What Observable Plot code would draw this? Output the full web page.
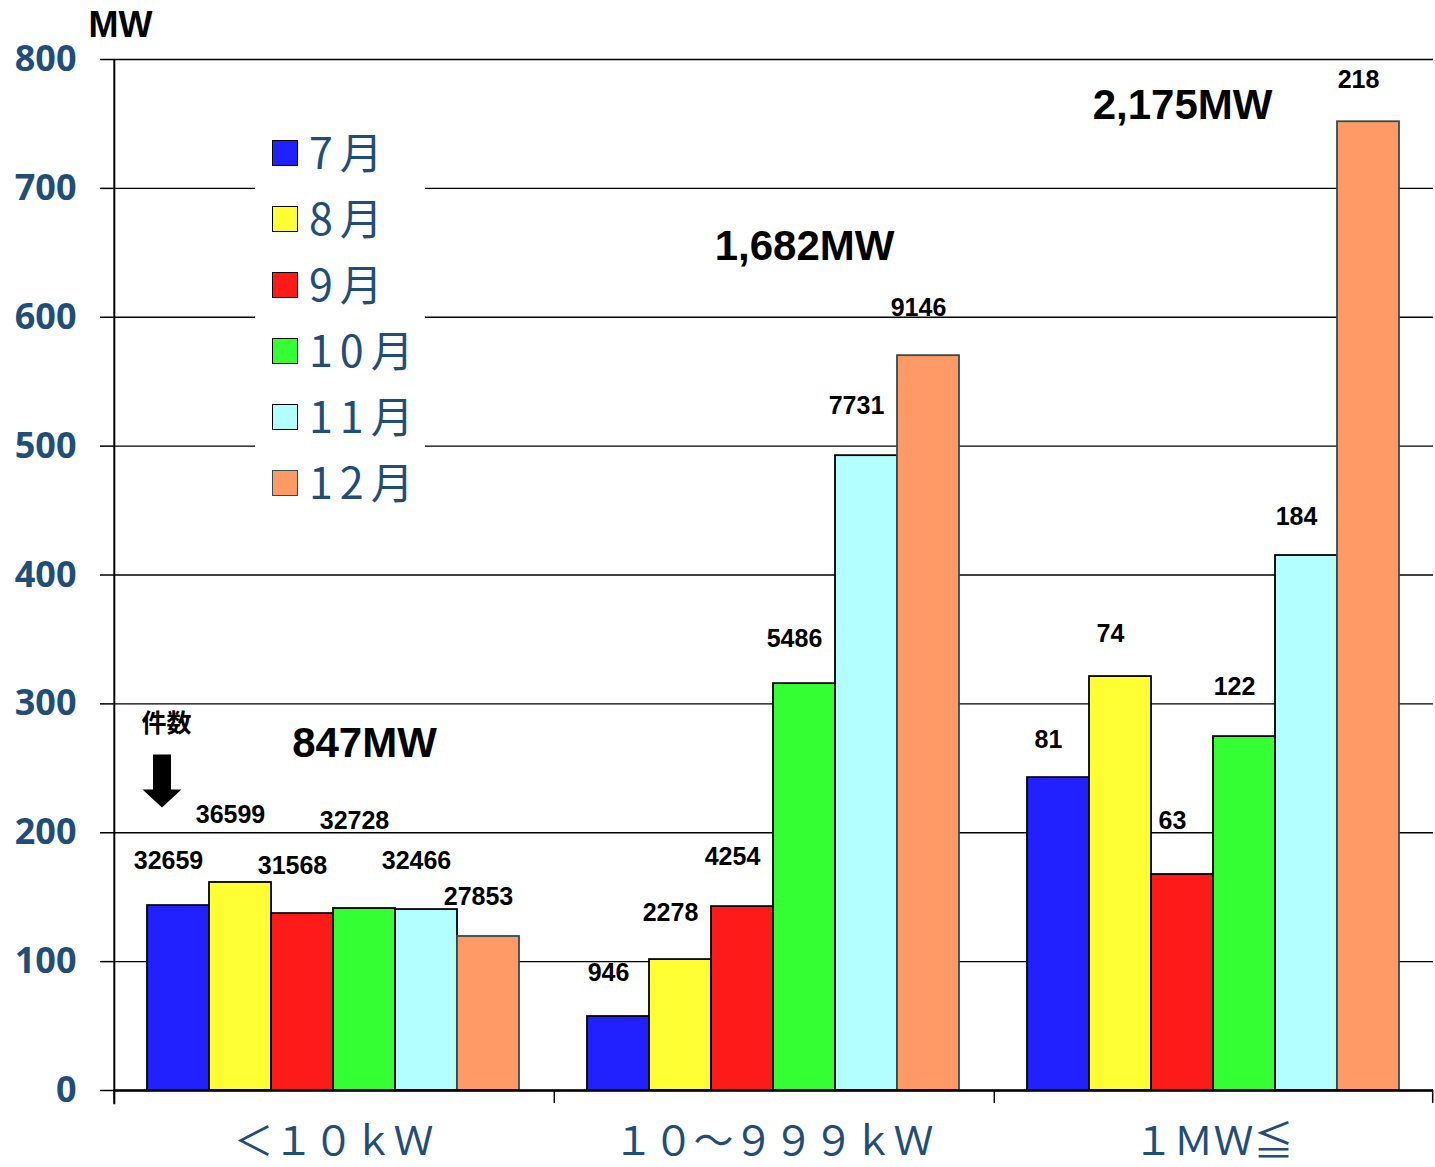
<!DOCTYPE html>
<html><head><meta charset="utf-8">
<script src="https://cdn.jsdelivr.net/npm/d3@7"></script>
<script src="https://cdn.jsdelivr.net/npm/@observablehq/plot@0.6"></script>
<style>
html,body{margin:0;padding:0;background:#fff;}
#wrap{position:relative;width:1435px;height:1167px;overflow:hidden;background:#fff;}
#chart svg{display:block;}
#legend{position:absolute;left:255px;top:116px;width:170px;height:398px;background:#fff;}
.sw{position:absolute;left:17px;width:24px;height:24px;border:1.5px solid #000;box-sizing:content-box;}
.lab{position:absolute;left:54px;height:66px;line-height:66px;font-family:"Noto Sans CJK JP";font-size:43px;color:#1f4e79;letter-spacing:7px;white-space:nowrap;}
</style></head>
<body>
<div id="wrap"><div id="chart"></div><div id="legend"></div></div>
<script>
// ---- data ----
const groups = ["<10kW", "10-999kW", "1MW≦"];
const groupLabels = ["＜１０ｋＷ", "１０～９９９ｋＷ", "１ＭＷ≦"];
const months = ["7月", "8月", "9月", "10月", "11月", "12月"];
const monthColors = ["#2121ff", "#ffff33", "#ff1a1a", "#33ff33", "#b3ffff", "#ff9966"];
const monthStrokes = ["#000", "#000", "#000", "#000", "#000", "#2f4f4f"];
const yTicks = [0, 100, 200, 300, 400, 500, 600, 700, 800];

const mwSmall = [143.5, 161.4, 137.3, 141.2, 140.4, 119.5];
const mwMid = [57.4, 101.6, 142.7, 315.7, 492.6, 570.2];
const mwLarge = [242.8, 321.2, 167.6, 274.6, 415.1, 751.7];

const countsSmall = [32659, 36599, 31568, 32728, 32466, 27853];
const countsMid = [946, 2278, 4254, 5486, 7731, 9146];
const countsLarge = [81, 74, 63, 122, 184, 218];

// height (MW) at which each count label sits
const countLabelAtSmall = [178, 214, 174, 209, 178, 150];
const countLabelAtMid = [91.5, 138, 181, 350, 531, 607];
const countLabelAtLarge = [272, 354.5, 209, 313, 445, 784];

const totalLabels = ["847MW", "1,682MW", "2,175MW"];
const totalLabelMonth = ["10月", "10月", "9月"];
const totalLabelAt = [269, 655, 764];

const countNote = "件数";
const countNoteAt = 284;
const arrowAt = 240.5;

// ---- table ----
const mwByGroup = [mwSmall, mwMid, mwLarge];
const countsByGroup = [countsSmall, countsMid, countsLarge];
const labelAtByGroup = [countLabelAtSmall, countLabelAtMid, countLabelAtLarge];
const rows = groups.flatMap((g, gi) => months.map((m, mi) => ({
  group: g, month: m, mw: mwByGroup[gi][mi], count: countsByGroup[gi][mi],
  labelAt: labelAtByGroup[gi][mi], fill: monthColors[mi], stroke: monthStrokes[mi]
})));
const totalsRows = groups.map((g, gi) => ({group: g, month: totalLabelMonth[gi], at: totalLabelAt[gi], label: totalLabels[gi]}));

const W = 1435, H = 1167, ML = 113, MR = 2, MT = 59, MB = 77;
const PO = 0.53;
const facetW = (W - ML - MR) / groups.length;
const edgeDx = facetW / (months.length + 2 * PO) * (PO + 0.5);

const arrowSymbol = {
  draw(ctx) {
    ctx.moveTo(-9, -26); ctx.lineTo(9, -26); ctx.lineTo(9, 9); ctx.lineTo(19.5, 9);
    ctx.lineTo(0, 27); ctx.lineTo(-19.5, 9); ctx.lineTo(-9, 9); ctx.closePath();
  }
};

const plot = Plot.plot({
  width: W, height: H,
  marginLeft: ML, marginRight: MR, marginTop: MT, marginBottom: MB,
  style: {background: "#fff", color: "#000", fontFamily: "'Liberation Sans', Arial, sans-serif"},
  fx: {domain: groups, padding: 0},
  x: {domain: months, paddingInner: 0, paddingOuter: PO, axis: null},
  y: {domain: [0, 800]},
  color: {type: "identity"},
  marks: [
    Plot.gridY(yTicks, {stroke: "#000", strokeOpacity: 1, strokeWidth: 1.3}),
    Plot.axisY(yTicks, {tickSize: 13, tickPadding: 24, fontSize: 36, fontWeight: "bold",
      fontFamily: "'Open Sans', sans-serif", fill: "#1f4e79", stroke: "#000", strokeWidth: 1.5, label: null}),
    Plot.barY(rows, {fx: "group", x: "month", y: "mw", fill: "fill", stroke: "stroke", strokeWidth: 1.8}),
    Plot.ruleY([0], {stroke: "#000", strokeWidth: 2.5}),
    Plot.ruleX([groups[0]], {fx: d => d, x: () => months[0], y1: -11, y2: 800, dx: -edgeDx, stroke: "#000", strokeWidth: 2}),
    Plot.ruleX(groups, {fx: d => d, x: () => months[0], y1: -10, y2: 0, dx: -edgeDx, stroke: "#000", strokeWidth: 1.5}),
    Plot.ruleX([groups[groups.length - 1]], {fx: d => d, x: () => months[months.length - 1], y1: -10, y2: 0, dx: edgeDx, stroke: "#000", strokeWidth: 1.5}),
    Plot.text(rows, {fx: "group", x: "month", y: "labelAt", text: d => String(d.count), dx: -10,
      fontSize: 25, fontWeight: "bold", fill: "#000"}),
    Plot.text(totalsRows, {fx: "group", x: "month", y: "at", text: "label", fontSize: 42, fontWeight: "bold", fill: "#000"}),
    Plot.text([{group: groups[0], month: months[0]}], {fx: "group", x: "month", y: () => countNoteAt, text: () => countNote,
      dx: -12, fontSize: 25, fontWeight: "bold", fontFamily: "'Noto Sans CJK JP'", fill: "#000"}),
    Plot.dot([{group: groups[0], month: months[0]}], {fx: "group", x: "month", y: () => arrowAt, symbol: arrowSymbol,
      r: 10, fill: "#000", stroke: "none", dx: -16.5}),
    Plot.text([{group: groups[0]}], {fx: "group", frameAnchor: "top-left", text: () => "MW", dx: -25, dy: -34,
      textAnchor: "start", lineAnchor: "middle", fontSize: 36, fontWeight: "bold", fill: "#000"}),
    Plot.axisFx({anchor: "bottom", tickSize: 0, tickPadding: 36, fontSize: 40, fill: "#1f4e79",
      fontFamily: "'Noto Sans CJK JP'", tickFormat: g => groupLabels[groups.indexOf(g)], label: null})
  ]
});
document.getElementById("chart").appendChild(plot);

// legend
const legend = document.getElementById("legend");
months.forEach((m, i) => {
  const cy = 37 + 66 * i;
  const sw = document.createElement("div");
  sw.className = "sw";
  sw.style.top = (cy - 13) + "px";
  sw.style.background = monthColors[i];
  sw.style.borderColor = monthStrokes[i];
  legend.appendChild(sw);
  const lab = document.createElement("div");
  lab.className = "lab";
  lab.style.top = (cy - 36) + "px";
  lab.textContent = m;
  legend.appendChild(lab);
});
</script>
</body></html>
